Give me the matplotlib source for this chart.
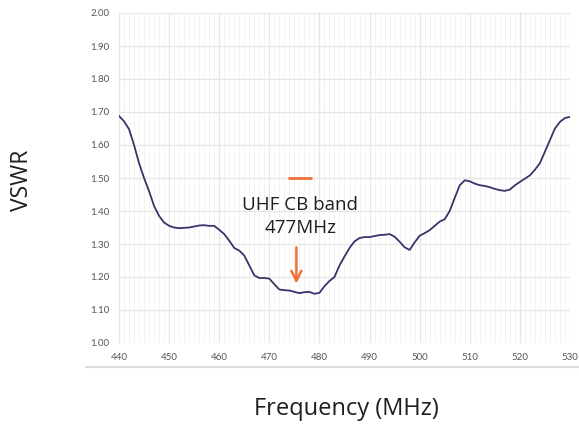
import numpy as np
import matplotlib
matplotlib.use('Agg')
import matplotlib.pyplot as plt
from matplotlib.ticker import MultipleLocator
from matplotlib.lines import Line2D

plt.rcParams['font.family'] = ['Lato', 'DejaVu Sans']

freq = np.arange(440, 531)
vswr = [1.688, 1.672, 1.648, 1.600, 1.545, 1.500, 1.460, 1.415, 1.385, 1.365,
        1.355, 1.350, 1.348, 1.349, 1.350, 1.353, 1.356, 1.357, 1.355, 1.355,
        1.343, 1.330, 1.310, 1.288, 1.280, 1.265, 1.235, 1.205, 1.197, 1.197,
        1.195, 1.178, 1.162, 1.160, 1.159, 1.155, 1.151, 1.154, 1.155, 1.149,
        1.152, 1.172, 1.188, 1.200, 1.235, 1.262, 1.288, 1.308, 1.318, 1.321,
        1.321, 1.324, 1.327, 1.328, 1.330, 1.322, 1.307, 1.290, 1.282, 1.305,
        1.325, 1.333, 1.342, 1.355, 1.368, 1.375, 1.400, 1.440, 1.478, 1.493,
        1.490, 1.483, 1.478, 1.476, 1.472, 1.467, 1.463, 1.461, 1.465, 1.478,
        1.488, 1.498, 1.508, 1.525, 1.545, 1.580, 1.615, 1.650, 1.670, 1.682,
        1.685]

band_label = "UHF CB band\n477MHz"
band_freq = 476.2
marker_span = (473.8, 478.6)
marker_level = 1.50
arrow_from = 1.29
arrow_to = 1.18

orange = '#f0703a'
label_font = ['Open Sans', 'DejaVu Sans']

fig = plt.figure(figsize=(5.79, 4.26), dpi=100)
ax = fig.add_axes([119 / 579, 83 / 426, 451 / 579, 330 / 426])

ax.plot(freq, vswr, color='#35356b', lw=1.3, zorder=3)

# band marker, label and arrow
ax.plot(marker_span, [marker_level, marker_level], color=orange, lw=2, solid_capstyle='butt')
ax.text(band_freq, 1.382, band_label, ha='center', va='center', fontsize=13.5,
        color='#1e1e1e', linespacing=1.35, family=label_font)
ax.annotate('', xy=(band_freq - 0.8, arrow_to), xytext=(band_freq - 0.8, arrow_from),
            arrowprops=dict(arrowstyle='->', color=orange, lw=1.8,
                            mutation_scale=18, shrinkA=0, shrinkB=0))

ax.set_xlim(440, 530)
ax.set_ylim(1.0, 2.0)
ax.xaxis.set_major_locator(MultipleLocator(10))
ax.xaxis.set_minor_locator(MultipleLocator(1))
ax.yaxis.set_major_locator(MultipleLocator(0.1))
ax.yaxis.set_major_formatter(matplotlib.ticker.FormatStrFormatter('%.2f'))

ax.grid(which='major', color='#e6e6e6', lw=0.9)
ax.grid(which='minor', axis='x', color='#f1f1f1', lw=0.6)
ax.tick_params(which='both', length=0)
ax.tick_params(axis='x', labelsize=7, labelcolor='#555555', pad=7)
ax.tick_params(axis='y', labelsize=7, labelcolor='#555555', pad=7)
for s in ax.spines.values():
    s.set_visible(False)

fig.text(22 / 579, 1 - 180 / 426, 'VSWR', rotation=90, ha='center', va='center',
         fontsize=16.5, color='#1e1e1e', family=label_font)
fig.text(346 / 579, 1 - 409 / 426, 'Frequency (MHz)', ha='center', va='center',
         fontsize=17, color='#1e1e1e', family=label_font)

fig.add_artist(Line2D([86 / 579, 1.0], [1 - 367 / 426, 1 - 367 / 426],
                      color='#dddddd', lw=1.5, transform=fig.transFigure))

fig.savefig('out.png', dpi=100)
